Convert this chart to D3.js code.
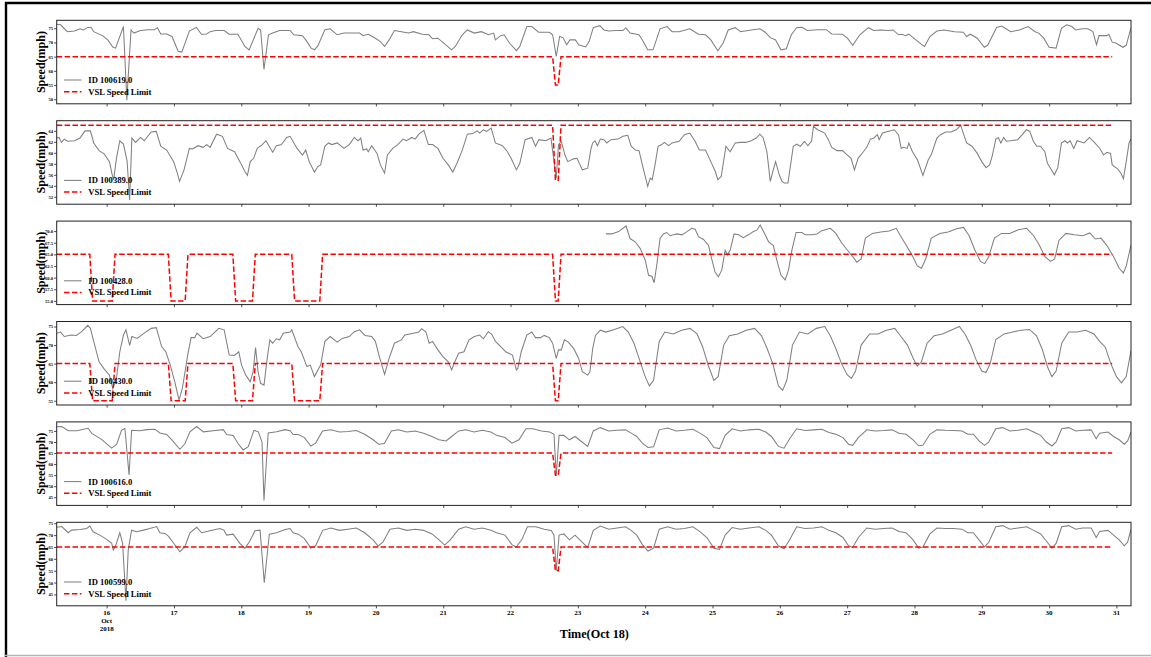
<!DOCTYPE html>
<html>
<head>
<meta charset="utf-8">
<script src="https://cdn.jsdelivr.net/npm/d3@7"></script>
<style>
  body { margin: 0; background: #fff; }
  svg { display: block; }
  text { font-family: "Liberation Serif", "Times New Roman", serif; font-weight: bold; }
</style>
</head>
<body>
<div id="chart"></div>
<script>

// ==================================================================================================
// DATA  (hours after Oct 15 2018 00:00, speed in mph)
// ==================================================================================================

var detectorIds = ["100619.0", "100389.0", "100428.0", "100430.0", "100616.0", "100599.0"];

var speed100619 = [[6.2,76.4],[7.6,76.2],[10,73.8],[12.6,74],[14.5,74.8],[15.7,74.4],[17.3,75.3],[18.5,75.3],[19.4,73.8],[22.5,72.4],[24.4,70.9],[26.2,68.4],[27.2,68],[30,75.6],[31.2,49.7],[32.7,74.4],[33.7,73.3],[36.1,74.2],[38.6,74.5],[41.1,74.5],[42.1,75.2],[43.3,73],[45.4,73],[47.3,72.1],[49.5,66.9],[50.8,66.6],[53.5,74],[56,75.3],[57.8,72.9],[59.7,73],[60.9,73.8],[62.8,74.2],[65.9,74.2],[67.7,72.9],[70.8,72.9],[73.3,68.6],[74.8,67.4],[78,75],[78.9,74.4],[80.1,60.5],[81.7,72.7],[83.2,73.3],[85.7,74.2],[89.4,74.2],[90.7,72.7],[93.8,72.4],[95,70.9],[96.9,68],[98.1,67.4],[99.3,68.8],[101.8,74.5],[103.7,74.8],[106.2,72.7],[108.6,73.3],[111.7,73.3],[114.2,73.3],[115.4,72.4],[117.3,72.9],[119.8,71.5],[121.6,70.3],[123.1,68.6],[124.7,70.9],[126.6,74.2],[129.1,73.8],[131.6,73.3],[133.4,73.8],[136.5,72.9],[138.9,72.7],[140.2,71.3],[142.1,71.5],[144.6,69.4],[147,67.4],[148.3,68.6],[150.8,72.7],[152.6,74.4],[155.1,73.3],[157.6,73.8],[160.1,72.7],[162,73.3],[162.6,70.9],[164.5,72.4],[165.7,72.7],[167.6,69.8],[170.1,67.1],[171.3,68.6],[173.8,75.6],[175.6,75.6],[178,73.6],[181.8,73.6],[183,72.7],[184.3,65.1],[185.5,72.1],[186.7,71.7],[188,69.2],[189.2,70.9],[191.1,70.9],[192.3,69.2],[194.8,68.4],[196,70.3],[197.5,75.2],[198.8,75.6],[199.8,75.9],[201.3,74.4],[203.1,74],[205.6,74.2],[208.1,74.2],[209.1,75.2],[210.6,73.3],[213.8,72.7],[215,70.9],[216.9,67.4],[218.8,67.4],[221.3,74.8],[223.8,75.6],[225.6,73.8],[228.1,73.8],[231.9,74.8],[235,72.9],[237.5,72.7],[239.4,70.9],[241.9,67.1],[243.8,69.8],[245.6,74.4],[248.1,75.2],[250,73.8],[253.8,74.4],[256.9,74.8],[258.8,73.6],[260.6,71.7],[262.5,70.9],[264.4,67.4],[266.3,67.8],[268.1,72.7],[270,75.2],[271.9,75.3],[273.8,74.2],[277.5,74.5],[280.6,74.5],[282.5,73],[286.3,72.9],[288.1,71.5],[290,69],[292.5,72.7],[295.6,75.2],[297.5,74.2],[300,74.4],[302.5,74.2],[304.4,74.4],[306.3,72.7],[307.5,72.9],[308.8,72.4],[310,72.9],[312.5,70.9],[314.4,69.4],[315.6,68.6],[317.5,72.1],[320,74],[322.5,74.4],[326.3,73.8],[329.4,73.6],[330.6,72.1],[331.9,72.9],[334.4,71.5],[336.9,68.3],[338.1,69],[341.3,75.3],[343.1,75.8],[344.4,75],[346.3,73.8],[349.4,74.4],[352.5,75.6],[355,73.8],[356.3,73.3],[358.1,71.5],[360,68.3],[362.5,68],[364.4,75],[366.3,76.2],[368.1,75.6],[369.4,74.4],[371.9,74.8],[373.8,74.8],[375.6,73.8],[376.9,69.2],[377.8,72.4],[380.6,72.4],[381.3,72.9],[382.5,70.1],[383.8,69.8],[386.3,68.3],[387.5,69],[388.5,72.7],[389.2,75]];

var speed100389 = [[6.2,62.7],[7,62.8],[7.9,61.9],[8.9,62.5],[10.1,62.1],[12.6,62.2],[14.5,62.7],[16.3,64],[18.2,64],[19.4,61.8],[21.3,60.4],[23.1,59.8],[25,58.4],[26,56],[26.5,55.1],[27.5,59],[28.7,62.2],[30,61.6],[31.3,58.5],[32.2,51.4],[33,62.7],[34.3,61.9],[36.1,62.8],[37.4,62.2],[39.9,63.8],[41.7,63.9],[43.3,61.2],[45.4,60.5],[47.9,58.4],[49.2,56.3],[50,54.8],[51.6,56.9],[53.5,60.8],[54.7,60.7],[56.6,61.3],[58.4,61],[59.7,61.5],[60.9,61],[63.2,63.4],[65.3,63],[67.1,60.8],[69.6,60.2],[71.5,58.4],[73.3,56.6],[74.2,55.9],[75.2,58.4],[76.4,59],[77.7,60.8],[79.5,61.5],[80.8,62.2],[83.2,60.1],[84.5,61.3],[86.3,61.5],[88.2,62.8],[89.4,63],[91.9,60.8],[93.8,59.6],[95,60.5],[96.2,58.4],[98.1,56.5],[99.3,57.5],[100.3,57.8],[101.8,61.2],[103.1,61.8],[104.3,61.5],[106.2,61.8],[108.6,60.8],[110.5,61.5],[112.3,62.8],[113.6,62.2],[114.6,62.7],[115.4,60.5],[116.7,60.7],[117.3,60.2],[118.5,61.3],[120.4,59.9],[121.6,57.8],[123.1,56.3],[124.1,59.6],[126,60.8],[127.8,61.5],[129.7,62.5],[130.9,62.2],[132.8,62.8],[134,62.5],[135.3,63.4],[137.1,64.1],[138.7,61.5],[140.2,61.5],[142.1,60.8],[143.9,59],[145.8,57.8],[147.4,56.5],[148.9,58.1],[150.8,60.5],[152.6,63.4],[154.5,63.5],[156.1,64],[157,63.6],[158.3,64.2],[159.5,63.9],[161.1,64.5],[162.6,61.8],[165.1,61.3],[166.9,60.2],[168.2,59],[170.1,56.9],[171.3,58.1],[173.2,62.4],[175.6,62.8],[176.9,61.2],[178.1,62.4],[180.6,62.2],[182.4,62.7],[184.3,55.4],[185.1,61.5],[186.1,62.1],[187.4,59.6],[188.4,58.4],[190.5,58.9],[191.7,59],[193.6,56.9],[195.5,57.2],[196.7,60.8],[197.3,61.8],[198.1,62.2],[199,61.3],[200,62.5],[201.3,62.4],[202.3,61.8],[203.8,62.4],[206.3,62.5],[208.1,63],[209.8,63.2],[211,61.2],[212.5,60.5],[213.8,60.4],[215,57.8],[216.9,53.9],[217.8,55.4],[218.5,55.1],[219.4,57.5],[220.6,61.2],[221.9,61.5],[222.8,61.9],[224.4,61.3],[225.6,61.8],[228.1,62.1],[230,63.3],[231.9,63.6],[233.8,62.1],[235.3,60.5],[237.5,60.5],[239.4,58.4],[241,56.6],[241.9,55.1],[243.1,55.7],[244.8,61.2],[246.3,60.2],[248.1,61.8],[250,61.9],[251.9,61.9],[253.8,62.2],[255.6,62.7],[256.9,63.4],[258.1,62.7],[259.4,60.2],[260.6,54.8],[261.5,56.6],[262.5,58.4],[263.8,56],[264.8,54.8],[265.6,54.5],[266.9,54.5],[268.8,61.2],[270,61.6],[271.3,61.2],[272.8,62.1],[274,61.3],[275.3,62.1],[276,64.8],[277.5,64.2],[280,63.6],[281.3,62.4],[282.5,61],[284.4,60.4],[286.3,60.4],[288.1,59.6],[289.4,59],[290.6,56.9],[291.9,59],[293.8,60.2],[295,61],[296.3,62.5],[297.5,62.7],[298.8,63.3],[299.4,62.4],[300.6,63.6],[302.5,63.9],[304.8,64.2],[306.3,63.3],[307.3,60.8],[308.1,61],[309.4,60.8],[310,61.8],[311.3,60.2],[313.1,58.7],[315,55.9],[316.9,58.7],[318.1,59.8],[320,62.7],[321.3,63.3],[323.1,63.8],[325,63.8],[326.9,64.2],[328.5,65],[329.4,63.6],[330.6,61.8],[332.5,61.2],[334.4,59.9],[336,58.4],[337.5,57.3],[338.8,57.8],[339.8,59.6],[341,62.5],[341.9,62.8],[342.8,61.8],[343.8,62.8],[344.8,62.1],[346.3,62.2],[348.8,62.4],[350.6,63.4],[351.9,64.2],[353.1,63.9],[354.4,62.1],[355.6,61.2],[356.9,61.2],[358.5,60.2],[359.4,58.1],[360.6,57.1],[361.9,56],[363.1,57.3],[364.4,61.8],[365.6,62.2],[366.5,61.8],[367.5,62.2],[368.8,60.8],[370,62.2],[372.5,61.8],[374.4,62.8],[376.3,61.8],[378.1,60.8],[379.4,59.6],[380.6,60.1],[381.9,59.9],[382.5,57.8],[384.4,57.1],[385.6,56.3],[386.5,55.3],[387.5,58.4],[388.5,61.8],[389.2,62.5]];

var speed100428 = [[202,69.4],[204.1,69.4],[206.5,69.9],[209.2,71.1],[210.6,68.4],[212.4,67.7],[214.2,66.3],[216,63.8],[217.2,60.5],[218.4,60.3],[219.2,58.9],[220.2,63],[221.3,68.4],[222.5,69.4],[223.7,69.7],[224.9,69],[226.1,69.2],[227.3,69.4],[229.1,69.2],[230.9,69.9],[232.6,70.6],[233.8,70.4],[235,68.8],[236.8,68.2],[238.6,66.9],[239.8,63.8],[240.9,61.2],[242.1,60.2],[243.3,61.6],[244.5,65.9],[245.3,64.9],[246.3,65.9],[247.7,69.4],[249.3,69.2],[251,68.6],[252.8,69.2],[254.6,69.9],[255.8,70.2],[257,71.3],[258.2,69.9],[260,67.7],[261.7,66.9],[262.9,63.8],[264.4,60.5],[265.9,59.5],[267.1,61.6],[268.3,65.9],[269.8,69.7],[271.9,69.7],[273,69.2],[275.4,69.2],[277.2,69.4],[279,70.1],[280.8,70.4],[282,70.6],[284,69.5],[286,67.5],[288,66],[290,64.5],[291.5,63.3],[293,64],[294.5,68.5],[297,69.5],[300,69.8],[303,70],[305.5,70.6],[307,69],[309,67],[311,65],[313,62.5],[314.5,62],[316,64],[318,68.5],[321,69.5],[324,69.8],[327,70.5],[329.5,70.8],[331.5,69],[333.5,66],[335.5,63.5],[337,63],[338.5,64.5],[340.5,68.5],[343,69.5],[346,69.5],[349,70.3],[352,70.6],[354.5,69],[356.5,67],[358.5,64.5],[360.5,63.5],[362,64],[363.5,68],[366,69.5],[369,69.2],[372,69],[374.5,69.6],[376.5,68.3],[378.5,68.5],[380.5,67],[383,64.5],[385,62],[386.5,61],[387.5,62.5],[389.2,67]];

var speed100430 = [[6.2,73.2],[7.6,73.5],[8.9,72.3],[11.4,72.7],[13.2,72.6],[15.1,73.6],[17.3,75.3],[18.2,74.5],[19.4,71],[21.3,65.5],[23.1,63.6],[25,61.9],[26.2,58.3],[27.5,61],[28.7,68.2],[30,72.7],[30.9,74.1],[32.2,69.9],[33,72.3],[34.9,71.8],[37.4,73.2],[39.9,74.5],[41.7,74.7],[43.6,69.6],[45.1,68.2],[46.7,64.6],[48.3,60.1],[49.8,55.2],[51,58.3],[52.9,67.3],[54.1,72],[55.4,72],[56.2,73.2],[58.4,71.7],[60.9,72.3],[64,74.5],[65.9,74.1],[67.7,67.3],[69.6,67.2],[71.1,68.2],[72.1,64.6],[73.6,61.9],[75.2,60.1],[76.2,62.8],[77.1,69.3],[78,62.8],[78.9,59.7],[80.1,59.2],[81.4,67.3],[82.2,71.4],[83.2,70.5],[84.5,71.7],[85.7,71.4],[87,73.2],[89.4,73.5],[90,74.1],[92.2,69.6],[93.4,68.2],[95.4,64.2],[96.6,64.6],[98.1,61.5],[99.6,63.7],[100.3,64.6],[101.8,71],[103.7,72.3],[106.2,70.8],[108,71.8],[110.5,72.3],[112.3,73.6],[114.2,74.1],[116.1,72.6],[118.5,72.3],[119.8,71],[121.4,66.4],[123.1,62.1],[124.7,66.4],[126.6,70.5],[129.1,71.4],[130.3,72.7],[133.4,73.2],[135.3,73.5],[136.3,74.4],[137.8,73.6],[139,70.5],[140.2,71],[142.1,68.7],[143.9,66.9],[145.8,65.5],[147,63.3],[147.9,65.1],[149.5,67.8],[151.4,68.2],[153.2,71.4],[155.1,72.3],[157,72.7],[158.3,71.7],[160.1,73.6],[161.3,72.9],[162.6,71],[164.5,69.6],[166.3,68.2],[168.7,67.3],[170.1,63.3],[170.6,63.7],[171.8,68.2],[173.8,72.7],[175.6,73.5],[176.9,72],[178.7,72],[180,72.6],[181.8,72],[183,70.5],[184.3,66.4],[185.1,68.7],[186.1,68.7],[187.2,71.4],[188.6,70.8],[190.5,69.1],[192.3,66.4],[193.6,62.8],[195.5,61.9],[196.3,62.8],[197.3,69.1],[198.3,72.6],[200,74],[202,73.5],[205,74.2],[208,75],[210,73.5],[212,70.5],[214,66],[216,61.5],[217.5,59],[219,60.5],[221,71],[223,73.5],[226,73],[229,74],[232,74.5],[234.5,73],[236.5,69.5],[238.5,64.5],[240.5,60.5],[242,61.5],[244,70],[246,72.5],[249,73],[252,74],[255,74.5],[257.5,72.5],[259.5,69],[261.5,65],[263.5,59],[265,57.8],[266.5,60.5],[268.5,70],[271,73.5],[274,73],[277,74.5],[280,75],[282,72.5],[284,69],[286,65],[288,62],[289.5,61],[291,63],[293,70],[296,73],[299,73],[302,74],[305,74.5],[307,72.5],[309.5,70],[311.5,66.5],[313,64.3],[314.5,65.5],[316.5,70.5],[319,72.5],[322,73],[325,74],[328,75],[330,73],[332,70],[334,66],[336,63],[337.5,62.6],[339,65],[341,71.5],[344,73],[347,73.5],[350,74],[353,74.2],[355.5,72.5],[357.5,69],[359.5,64],[361,61.5],[362.5,63],[364.5,70.5],[367,73.5],[370,73.5],[373,74],[376,73],[378,71],[380,69.5],[382,65],[384,61.5],[385.8,59.8],[387.5,61.5],[389.2,68.5]];

var speed100616 = [[6.2,76.9],[8,77],[10.3,75.1],[13.3,75.1],[17.4,76.2],[18.7,73.9],[22.2,71.2],[25.8,67.2],[27.6,69],[29.3,75.3],[30.5,76.2],[32,55.1],[32.9,75.3],[35.9,75.1],[38.3,75.6],[41.2,75.8],[43,74.1],[45.4,73.4],[47.8,70.2],[50.1,66.7],[51.9,69.2],[53.7,74.6],[56.1,77],[58.5,74.6],[62,75.1],[65.6,75.6],[66.8,73.4],[69.1,73],[70.9,69.2],[72.7,66.4],[74.5,67.9],[76.5,75.3],[78.1,74.6],[79.4,70],[80.1,43.5],[81.6,74.1],[84.6,74.6],[87.6,75.6],[89.4,75.1],[90.5,73.4],[92.3,73.4],[94.5,72],[96.8,68.2],[98.5,69.5],[101,75],[104,75.5],[107,74.5],[110,74.8],[113,75.2],[116,73.5],[119,71],[121,69],[123,69.3],[125.5,75],[128,75.5],[131,74.5],[134,75],[137,74],[140,72.5],[142.5,71],[145,70.5],[147,72.5],[149.5,75],[152,75.5],[155,74.5],[158,75.3],[161,74.5],[163,73],[166,72],[168.5,69.5],[171,71],[173.5,76],[176,76],[179,75],[182,74.5],[183.5,73.5],[184.3,54.6],[185.3,73],[187,73],[189,71],[191,72.5],[193.5,70],[195.5,68],[197.5,75],[200,76.5],[203,75],[206,75.3],[209,75.5],[211,74],[213,72.5],[215,69.5],[217,67.5],[219,67.8],[221,75.5],[224,76.3],[227,75],[230,75.3],[233,75.8],[235.5,74],[238,72],[240.5,67.5],[242.5,67],[244.5,73],[247,76],[250,75],[253,75.5],[256.5,75.8],[259,74.5],[261,72.5],[263.5,68],[265.5,67.2],[267.5,71.5],[270,76],[273,75.2],[276,75.5],[279,75.8],[281.5,74.3],[284,73.5],[286.5,72],[288.5,69],[290,68.5],[292,72],[295,75.5],[298,75],[301,75.2],[304,75.5],[306.5,74],[309,73.5],[311.5,71],[313.5,68.3],[315,68.5],[317.5,73.5],[320,75.5],[323,75.3],[326,75.2],[329,75],[331,73.5],[333,73.5],[335,70.5],[337,68.5],[338.5,70],[341,76],[343.5,76.5],[346,75],[349,75.3],[352,76],[354.5,74.5],[357,73],[359,70],[361,68.2],[362.5,70],[364.5,76],[367,76.5],[369.5,75],[372,75.3],[375,75.5],[376.8,71.5],[378,74],[381,74.5],[383,72.5],[385,71],[386.8,69],[388,70.5],[389.2,74.5]];

var speed100599 = [[6.2,73.3],[8,73.6],[10.3,71],[11.5,72.1],[14.5,72.4],[16.9,72.8],[18,73.8],[19.2,71.4],[21.6,70],[24,68.2],[25.8,66.5],[26.4,63.7],[27.3,65.8],[28.7,71],[29.7,66.5],[30.9,42.3],[31.7,63.7],[32.9,72.1],[34.7,71.4],[37.1,72.1],[39.4,72.8],[41.8,73.6],[43,71],[44.8,70.7],[46,69.6],[47.8,66.8],[50.1,63],[51.9,65.1],[53.7,71],[56.1,73.3],[57.9,71],[60.8,71.8],[64.4,72.8],[65.8,72.1],[66.8,70],[69.1,70.4],[71.5,66.5],[73.3,64.4],[74.9,67.2],[76.9,71.8],[78.7,72.1],[80.2,49.9],[82,70.4],[84.6,71],[87.6,72.4],[89.4,72.8],[90.5,71],[92.3,70.4],[94.5,68.5],[96.8,64.5],[98.5,65.5],[101,72],[104,73],[107,72],[110,72.5],[113,73],[116,71],[119,68],[120.8,65.4],[122.5,67],[125,72.5],[128,73],[131,72],[134,72.5],[137,72],[140,70.5],[142.5,68],[144.5,65.8],[146.5,68],[149.5,72.5],[152,73.5],[155,72.5],[158,73],[161,72],[163,71],[166,70],[168.5,66],[170,65],[172,68],[174,73.5],[177,73.5],[180,72.5],[182.5,72],[183.5,70],[184.3,55],[185.3,70],[187,70.5],[189,68],[191,70],[193.5,67],[195.5,64.8],[197.5,72],[200,73.8],[203,72.5],[206,73],[209,73.5],[211,72],[213,70],[215,66],[217,63.3],[219,64.5],[221,72.5],[224,73.5],[227,72.5],[230,72.8],[233,73.5],[235.5,71.5],[238,69],[240.5,64.5],[242.5,64],[244.5,70],[247,73.2],[250,72.5],[253,73],[256.5,73.5],[259,72],[261,70],[263.5,65.5],[265.5,64.2],[267.5,68],[270,73.5],[273,72.8],[276,73],[279,73.5],[281.5,72],[284,71],[286.5,69],[288.5,65.5],[290,64.8],[292,69],[295,73],[298,72.5],[301,72.8],[304,73],[306.5,71.5],[309,71],[311.5,68],[313.5,64.5],[315,65],[317.5,70.5],[320,73],[323,72.8],[326,72.8],[329,72.5],[331,71],[333,71],[335,68],[337,65],[338.5,67],[341,73.5],[343.5,74],[346,72.5],[349,73],[352,73.5],[354.5,72],[357,70.5],[359,67.5],[361,64.5],[362.5,66.5],[364.5,73.5],[367,74],[369.5,72.5],[372,73],[375,73],[376.8,69],[378,71.5],[381,72],[383,70],[385,68],[386.8,65.5],[388,67],[389.2,72.5]];

// VSL posted limit: single drop on Oct 22 (most detectors) ...
var vslOneDrop = [[6.2,65],[183,65],[184,55],[185,55],[186,65],[382.5,65]];
// ... and the repeated drops for 100428 / 100430
var vslManyDrops = [[6.2,65],[18,65],[19,55],[26,55],[27,65],[46,65],[47,55],[52,55],[53,65],[69,65],[70,55],[76,55],[77,65],[90,65],[91,55],[100,55],[101,65],[183,65],[184,55],[185,55],[186,65],[382.5,65]];

// y tick labels per panel
var yTicks100619 = [50, 55, 60, 65, 70, 75];
var yTicks100389 = [52, 54, 56, 58, 60, 62, 64];
var yTicks100428 = [55, 57.5, 60, 62.5, 65, 67.5, 70];
var yTicks100430 = [55, 60, 65, 70, 75];
var yTicks100616 = [45, 50, 55, 60, 65, 70, 75];
var yTicks100599 = [45, 50, 55, 60, 65, 70, 75];

var yRange100619 = [48.4, 77.8];
var yRange100389 = [50.65, 65.85];
var yRange100428 = [54.2, 72.15];
var yRange100430 = [53.85, 76.35];
var yRange100616 = [41.3, 79.1];
var yRange100599 = [40.2, 75.4];

var panels = [
  { id: detectorIds[0], speed: speed100619, vsl: vslOneDrop,   domain: yRange100619, ticks: yTicks100619, fmt: "d" },
  { id: detectorIds[1], speed: speed100389, vsl: vslOneDrop,   domain: yRange100389, ticks: yTicks100389, fmt: "d" },
  { id: detectorIds[2], speed: speed100428, vsl: vslManyDrops, domain: yRange100428, ticks: yTicks100428, fmt: ".1f" },
  { id: detectorIds[3], speed: speed100430, vsl: vslManyDrops, domain: yRange100430, ticks: yTicks100430, fmt: "d" },
  { id: detectorIds[4], speed: speed100616, vsl: vslOneDrop,   domain: yRange100616, ticks: yTicks100616, fmt: "d" },
  { id: detectorIds[5], speed: speed100599, vsl: vslOneDrop,   domain: yRange100599, ticks: yTicks100599, fmt: "d" }
];

// ==================================================================================================
// LAYOUT
// ==================================================================================================

var svgWidth = 1151;
var svgHeight = 657;
var plotLeft = 56.7;
var plotRight = 1131;
var panelTop = 20.3;
var panelStep = 100.4;
var panelHeight = 83.5;

var baseTime = Date.UTC(2018, 9, 15);
var toDate = h => new Date(baseTime + h * 3600000);

var x = d3.scaleUtc()
  .domain([toDate(6.2), toDate(389.2)])
  .range([plotLeft, plotRight]);

var dayTicks = d3.utcDay.range(toDate(24), toDate(390));

var svg = d3.select("#chart").append("svg")
  .attr("width", svgWidth)
  .attr("height", svgHeight);

svg.append("rect").attr("width", svgWidth).attr("height", svgHeight).attr("fill", "#fff");

// outer frame of the figure
svg.append("line").attr("x1", 6).attr("x2", 6).attr("y1", 2).attr("y2", svgHeight).attr("stroke", "#000").attr("stroke-width", 2.4);
svg.append("line").attr("x1", 5).attr("x2", svgWidth).attr("y1", 3).attr("y2", 3).attr("stroke", "#000").attr("stroke-width", 2.4);
svg.append("line").attr("x1", 5).attr("x2", svgWidth).attr("y1", 655.5).attr("y2", 655.5).attr("stroke", "#b4b4b4").attr("stroke-width", 1.5);

svg.append("defs").append("clipPath").attr("id", "plotClip")
  .append("rect").attr("x", plotLeft).attr("y", -5).attr("width", plotRight - plotLeft).attr("height", panelHeight + 10);

// ==================================================================================================
// DRAW EACH PANEL
// ==================================================================================================

panels.forEach((p, i) => {
  var top = panelTop + i * panelStep;
  var g = svg.append("g").attr("transform", `translate(0, ${top})`);

  var y = d3.scaleLinear().domain(p.domain).range([panelHeight, 0]);

  var line = d3.line()
    .x(d => x(toDate(d[0])))
    .y(d => y(d[1]));

  var lines = g.append("g").attr("clip-path", "url(#plotClip)");

  lines.append("path")
    .datum(p.speed)
    .attr("fill", "none")
    .attr("stroke", "#808080")
    .attr("stroke-width", 1.05)
    .attr("d", line);

  lines.append("path")
    .datum(p.vsl)
    .attr("fill", "none")
    .attr("stroke", "#ff0000")
    .attr("stroke-width", 1.5)
    .attr("stroke-dasharray", "5.5,2.4")
    .attr("d", line);

  // y axis
  var yAxis = g.append("g")
    .attr("transform", `translate(${plotLeft}, 0)`)
    .call(d3.axisLeft(y).tickValues(p.ticks).tickSize(2.6).tickPadding(1).tickFormat(d3.format(p.fmt)));
  yAxis.select(".domain").remove();
  yAxis.selectAll("line").attr("stroke", "#000").attr("stroke-width", 0.7);
  yAxis.selectAll("text").attr("font-size", 4.6).attr("font-family", "Liberation Serif").attr("font-weight", "bold");

  // x ticks on every panel, labels only on the last one
  var xAxis = g.append("g")
    .attr("transform", `translate(0, ${panelHeight})`)
    .call(d3.axisBottom(x).tickValues(dayTicks).tickSize(2.6).tickFormat(""));
  xAxis.select(".domain").remove();
  xAxis.selectAll("line").attr("stroke", "#000").attr("stroke-width", 0.7);

  // spines
  g.append("rect")
    .attr("x", plotLeft).attr("y", 0)
    .attr("width", plotRight - plotLeft).attr("height", panelHeight)
    .attr("fill", "none").attr("stroke", "#222").attr("stroke-width", 1);

  // y label
  g.append("text")
    .attr("transform", `translate(40.5, ${panelHeight / 2}) rotate(-90)`)
    .attr("text-anchor", "middle")
    .attr("dominant-baseline", "central")
    .attr("font-size", 12)
    .text("Speed(mph)");

  // legend (no frame)
  var legend = g.append("g");
  legend.append("line").attr("x1", 64).attr("x2", 81.5).attr("y1", 59.7).attr("y2", 59.7)
    .attr("stroke", "#808080").attr("stroke-width", 1.05);
  legend.append("line").attr("x1", 64).attr("x2", 81.5).attr("y1", 71.4).attr("y2", 71.4)
    .attr("stroke", "#ff0000").attr("stroke-width", 1.5).attr("stroke-dasharray", "5.5,2.4");
  legend.append("text").attr("x", 88.3).attr("y", 59.7).attr("dominant-baseline", "central")
    .attr("font-size", 8.6).text("ID " + p.id);
  legend.append("text").attr("x", 88.3).attr("y", 71.4).attr("dominant-baseline", "central")
    .attr("font-size", 8.6).text("VSL Speed Limit");

  if (i == panels.length - 1) {
    var labels = g.append("g").attr("transform", `translate(0, ${panelHeight})`);
    dayTicks.forEach((d, k) => {
      var t = labels.append("text")
        .attr("x", x(d))
        .attr("y", 4)
        .attr("text-anchor", "middle")
        .attr("font-size", 7);
      t.append("tspan").attr("x", x(d)).attr("dy", "0.71em").text(d3.utcFormat("%-d")(d));
      if (k == 0) {
        t.append("tspan").attr("x", x(d)).attr("dy", "8.3").text(d3.utcFormat("%b")(d));
        t.append("tspan").attr("x", x(d)).attr("dy", "7.8").text(d3.utcFormat("%Y")(d));
      }
    });
  }
});

// x label
svg.append("text")
  .attr("x", (plotLeft + plotRight) / 2 + 0.5)
  .attr("y", 634)
  .attr("text-anchor", "middle")
  .attr("dominant-baseline", "central")
  .attr("font-size", 12.2)
  .text("Time(Oct 18)");

</script>
</body>
</html>
